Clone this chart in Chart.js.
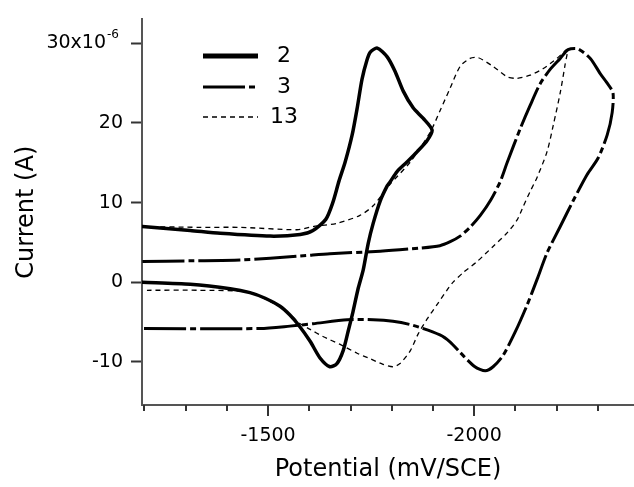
<!DOCTYPE html>
<html>
<head>
<meta charset="utf-8">
<script src="https://cdn.jsdelivr.net/npm/chart.js@4.4.0/dist/chart.umd.min.js"></script>
<style>
  html, body { margin: 0; padding: 0; background: #fff; }
  #wrap { width: 634px; height: 487px; }
</style>
</head>
<body>
<div id="wrap"><canvas id="cv"></canvas></div>
<script>
// potential in mV vs SCE, current in microamps (axis reads x10^-6 A)
const s2Potential = [-1195, -1311, -1384, -1505, -1578, -1609, -1640, -1657, -1672, -1687, -1704, -1716, -1728, -1740, -1748, -1765, -1789, -1808, -1828, -1852, -1876, -1898, -1886, -1862, -1837, -1813, -1796, -1789, -1772, -1755, -1743, -1731, -1718, -1706, -1694, -1682, -1667, -1650, -1626, -1602, -1573, -1553, -1529, -1493, -1456, -1408, -1311, -1195];
const s2Current = [7.0, 6.5, 6.15, 5.8, 6.0, 6.5, 7.9, 10.0, 12.7, 15.1, 18.5, 21.8, 25.5, 27.9, 28.9, 29.4, 28.3, 26.5, 24.0, 21.9, 20.6, 19.1, 17.8, 16.4, 15.1, 13.9, 12.6, 12.1, 10.2, 7.4, 4.9, 1.6, -0.9, -3.7, -6.2, -8.6, -10.2, -10.6, -9.5, -7.4, -5.3, -4.1, -3.0, -2.0, -1.3, -0.8, -0.25, 0];

const s3Potential = [-1195, -1311, -1432, -1578, -1650, -1772, -1869, -1917, -1942, -1966, -1990, -2015, -2040, -2063, -2080, -2112, -2136, -2160, -2184, -2209, -2228, -2252, -2282, -2306, -2323, -2337, -2335, -2323, -2301, -2274, -2240, -2209, -2177, -2153, -2129, -2100, -2070, -2046, -2027, -2002, -1966, -1942, -1917, -1852, -1803, -1755, -1692, -1609, -1553, -1481, -1195];
const s3Current = [2.6, 2.7, 2.8, 3.3, 3.6, 3.9, 4.3, 4.6, 5.1, 5.8, 6.9, 8.4, 10.3, 12.6, 15.0, 19.3, 22.2, 24.9, 26.7, 28.1, 29.2, 29.3, 28.1, 26.2, 25.0, 23.8, 21.3, 18.5, 15.6, 13.5, 10.2, 7.0, 3.7, 0.4, -2.8, -6.2, -9.2, -10.6, -11.1, -10.6, -8.8, -7.5, -6.6, -5.4, -4.9, -4.7, -4.7, -5.2, -5.5, -5.8, -5.8];

const s13Potential = [-1195, -1335, -1432, -1570, -1609, -1667, -1723, -1755, -1796, -1845, -1893, -1917, -1942, -1966, -1990, -2010, -2046, -2080, -2104, -2136, -2167, -2201, -2226, -2221, -2209, -2192, -2177, -2153, -2136, -2119, -2104, -2080, -2046, -2007, -1973, -1947, -1934, -1910, -1886, -1864, -1845, -1820, -1803, -1779, -1748, -1716, -1675, -1633, -1602, -1578, -1536, -1493, -1456, -1328, -1206];
const s13Current = [7.0, 6.9, 6.9, 6.6, 7.0, 7.4, 8.4, 9.6, 12.3, 15.1, 18.8, 21.5, 24.4, 27.1, 28.1, 28.2, 27.1, 25.8, 25.6, 26.0, 26.8, 28.1, 29.2, 27.4, 23.8, 19.7, 16.4, 13.2, 11.4, 9.5, 7.8, 6.2, 4.5, 2.6, 1.2, -0.1, -1.0, -2.8, -4.6, -6.5, -8.6, -10.2, -10.6, -10.3, -9.6, -8.9, -7.8, -6.8, -5.9, -5.2, -3.3, -2.1, -1.2, -1.0, -1.0];

const seriesNames = ['2', '3', '13'];
const xTickValues = [-1200, -1300, -1400, -1500, -1600, -1700, -1800, -1900, -2000, -2100, -2200, -2300];
const yTickValues = [-10, 0, 10, 20, 30];

const FONT = '"DejaVu Sans", sans-serif';

function points(xs, ys) {
    return xs.map((x, i) => ({ x: x, y: ys[i] }));
}

// minor/major x ticks, the x10^-6 label and the legend box
const decor = {
    id: 'decor',
    afterDraw(chart) {
        const ctx = chart.ctx;
        const xs = chart.scales.x;
        const ys = chart.scales.y;
        const base = chart.chartArea.bottom;
        ctx.save();
        ctx.strokeStyle = '#333';
        ctx.lineWidth = 2;
        xTickValues.forEach(v => {
            const px = Math.round(xs.getPixelForValue(v));
            const len = v % 500 === 0 ? 11 : 6;
            ctx.beginPath();
            ctx.moveTo(px, base);
            ctx.lineTo(px, base + len);
            ctx.stroke();
        });

        const y30 = ys.getPixelForValue(30);
        ctx.fillStyle = '#000';
        ctx.textBaseline = 'middle';
        ctx.textAlign = 'right';
        ctx.font = '19px ' + FONT;
        ctx.fillText('30x10', 106, y30);
        ctx.textAlign = 'left';
        ctx.font = '12px ' + FONT;
        ctx.fillText('-6', 107, y30 - 8);

        const rows = [56, 87, 117];
        chart.data.datasets.forEach((ds, i) => {
            ctx.strokeStyle = '#000';
            ctx.lineWidth = ds.legendWidth;
            ctx.setLineDash(ds.borderDash || []);
            ctx.beginPath();
            ctx.moveTo(203, rows[i]);
            ctx.lineTo(258, rows[i]);
            ctx.stroke();
            ctx.setLineDash([]);
            ctx.font = '22px ' + FONT;
            ctx.textAlign = 'center';
            ctx.fillText(seriesNames[i], 284, rows[i]);
        });
        ctx.restore();
    }
};

const config = {
    type: 'scatter',
    data: {
        datasets: [
            {
                label: seriesNames[0],
                data: points(s2Potential, s2Current),
                showLine: true,
                borderColor: '#000',
                borderWidth: 3.5,
                legendWidth: 5,
                pointRadius: 0,
                tension: 0.25,
                borderJoinStyle: 'round',
                borderCapStyle: 'round'
            },
            {
                label: seriesNames[1],
                data: points(s3Potential, s3Current),
                showLine: true,
                borderColor: '#000',
                borderWidth: 3,
                legendWidth: 3,
                borderDash: [42, 4, 6, 4],
                pointRadius: 0,
                tension: 0.25,
                borderJoinStyle: 'round'
            },
            {
                label: seriesNames[2],
                data: points(s13Potential, s13Current),
                showLine: true,
                borderColor: '#000',
                borderWidth: 1.3,
                legendWidth: 1.5,
                borderDash: [5, 4],
                pointRadius: 0,
                tension: 0.25
            }
        ]
    },
    options: {
        responsive: true,
        maintainAspectRatio: false,
        animation: false,
        devicePixelRatio: 1,
        layout: { padding: { top: 12, left: 0, right: 0, bottom: 0 } },
        plugins: {
            legend: { display: false },
            tooltip: { enabled: false }
        },
        scales: {
            x: {
                type: 'linear',
                reverse: true,
                min: -2388,
                max: -1194,
                afterFit: s => { s.height = 82; },
                afterBuildTicks: s => { s.ticks = xTickValues.map(v => ({ value: v })); },
                border: { display: true, color: '#555', width: 2 },
                grid: { display: true, drawOnChartArea: false, drawTicks: true, tickLength: 11, tickColor: 'rgba(0,0,0,0)' },
                ticks: {
                    autoSkip: false,
                    maxRotation: 0,
                    padding: 9,
                    color: '#000',
                    font: { family: FONT, size: 19 },
                    callback: v => (v % 500 === 0 ? String(v) : '')
                },
                title: {
                    display: true,
                    text: 'Potential (mV/SCE)',
                    color: '#000',
                    font: { family: FONT, size: 24 },
                    padding: { top: 0, bottom: 3 }
                }
            },
            y: {
                type: 'linear',
                min: -15.4,
                max: 33,
                afterFit: s => { s.width = 142; },
                afterBuildTicks: s => { s.ticks = yTickValues.map(v => ({ value: v })); },
                border: { display: true, color: '#555', width: 2 },
                grid: { display: true, drawOnChartArea: false, drawTicks: true, tickLength: 11, tickWidth: 2, tickColor: '#333' },
                ticks: {
                    padding: 8,
                    color: '#000',
                    font: { family: FONT, size: 19 },
                    callback: v => (v === 30 ? '' : String(v))
                },
                title: {
                    display: true,
                    text: 'Current (A)',
                    color: '#000',
                    font: { family: FONT, size: 24 },
                    padding: { top: 12, bottom: 0 }
                }
            }
        }
    },
    plugins: [decor]
};

new Chart(document.getElementById('cv'), config);
</script>
</body>
</html>
